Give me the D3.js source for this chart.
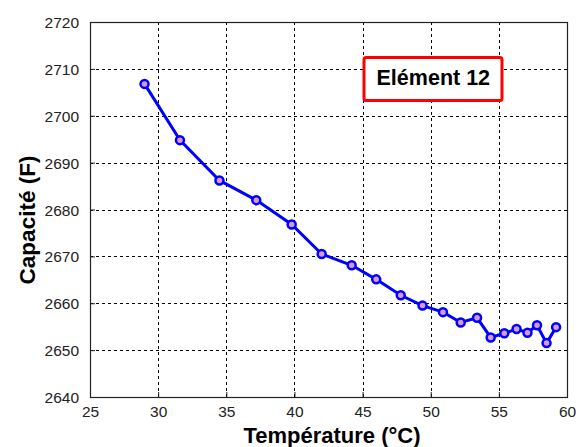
<!DOCTYPE html>
<html><head><meta charset="utf-8">
<script src="https://cdn.jsdelivr.net/npm/d3@7"></script>
<style>body{margin:0;background:#fff}svg{display:block}</style>
</head><body><svg id="c" width="585" height="447"></svg>
<script>
const temps = [29.0, 31.6, 34.5, 37.2, 39.8, 42.0, 44.2, 46.0, 47.8, 49.4, 50.9, 52.2, 53.4, 54.4, 55.4, 56.3, 57.1, 57.8, 58.5, 59.2];
const caps  = [2706.8, 2694.8, 2686.2, 2682.0, 2676.8, 2670.5, 2668.1, 2665.1, 2661.7, 2659.5, 2658.1, 2655.9, 2656.9, 2652.7, 2653.6, 2654.5, 2653.7, 2655.3, 2651.5, 2654.9];
const xTicks = [25, 30, 35, 40, 45, 50, 55, 60];
const yTicks = [2640, 2650, 2660, 2670, 2680, 2690, 2700, 2710, 2720];
const xLabel = "Température (°C)";
const yLabel = "Capacité (F)";
const legendText = "Elément 12";

const FONT = "Arial, 'Liberation Sans', sans-serif";
const svg = d3.select("#c");
const L = 90, R = 567, T = 22, B = 397;
const x = d3.scaleLinear().domain([25, 60]).range([L, R]);
const y = d3.scaleLinear().domain([2640, 2720]).range([B, T]);

// grid
const g = svg.append("g");
g.selectAll(".vx").data(xTicks.slice(1, -1)).join("line")
  .attr("x1", d => Math.round(x(d)) + 0.5).attr("x2", d => Math.round(x(d)) + 0.5)
  .attr("y1", T).attr("y2", B).attr("stroke", "#000").attr("stroke-dasharray", "3,3").attr("stroke-width", 1);
g.selectAll(".hy").data(yTicks.slice(1, -1)).join("line")
  .attr("y1", d => Math.round(y(d)) + 0.5).attr("y2", d => Math.round(y(d)) + 0.5)
  .attr("x1", L).attr("x2", R).attr("stroke", "#000").attr("stroke-dasharray", "3,3").attr("stroke-width", 1);

// axes
const xa = svg.append("g").attr("transform", `translate(0,${B})`)
  .call(d3.axisBottom(x).tickValues(xTicks).tickFormat(d3.format("d")).tickSize(-5).tickPadding(8));
const ya = svg.append("g").attr("transform", `translate(${L},0)`)
  .call(d3.axisLeft(y).tickValues(yTicks).tickFormat(d3.format("d")).tickSize(-5).tickPadding(11));
[xa, ya].forEach(a => {
  a.select(".domain").remove();
  a.selectAll("line").attr("stroke", "#222");
  a.selectAll("text").attr("font-family", FONT).attr("font-size", 15.5).attr("fill", "#222");
});
xa.selectAll("text").attr("dy", "0.75em");
ya.selectAll("text").attr("dy", "0.36em");
svg.append("rect").attr("x", L + 0.5).attr("y", T + 0.5).attr("width", R - L).attr("height", B - T)
  .attr("fill", "none").attr("stroke", "#222").attr("stroke-width", 1.2);

// line
const pts = temps.map((t, i) => [t, caps[i]]);
svg.append("path").datum(pts)
  .attr("d", d3.line().x(d => x(d[0])).y(d => y(d[1])))
  .attr("fill", "none").attr("stroke", "#0000ff").attr("stroke-width", 3);
svg.selectAll(".pt").data(pts).join("circle")
  .attr("cx", d => x(d[0])).attr("cy", d => y(d[1])).attr("r", 4)
  .attr("fill", "#d89ad0").attr("stroke", "#0000ff").attr("stroke-width", 2.5);

// labels
svg.append("text").attr("x", 332).attr("y", 443).attr("text-anchor", "middle")
  .attr("font-family", FONT).attr("font-weight", "bold").attr("font-size", 22)
  .text(xLabel);
svg.append("text").attr("transform", `translate(34.5,220) rotate(-90)`).attr("text-anchor", "middle")
  .attr("font-family", FONT).attr("font-weight", "bold").attr("font-size", 22.5)
  .text(yLabel);

// legend box
svg.append("rect").attr("x", 364).attr("y", 57.5).attr("width", 138).attr("height", 43).attr("rx", 2)
  .attr("fill", "#fff").attr("stroke", "#ff0000").attr("stroke-width", 3);
svg.append("text").attr("x", 433.3).attr("y", 85).attr("text-anchor", "middle")
  .attr("font-family", FONT).attr("font-weight", "bold").attr("font-size", 21.5)
  .text(legendText);
</script></body></html>
